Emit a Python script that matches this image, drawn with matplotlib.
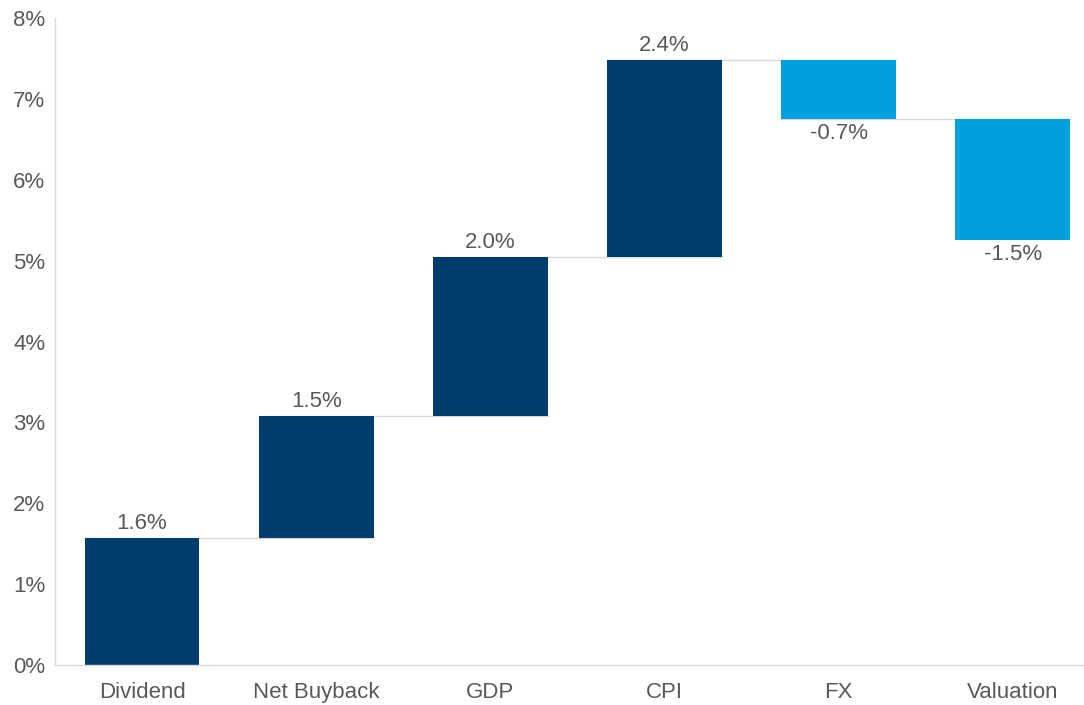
import numpy as np
import matplotlib
matplotlib.use("Agg")
import matplotlib.pyplot as plt

categories = ["Dividend", "Net Buyback", "GDP", "CPI", "FX", "Valuation"]
contributions = [1.57, 1.51, 1.96, 2.44, -0.73, -1.50]
yticks = [0, 1, 2, 3, 4, 5, 6, 7, 8]

DARK = "#003d6b"
LIGHT = "#00a0de"
TEXT = "#595959"
LINE = "#d9d9d9"

plt.rcParams["font.family"] = ["Liberation Sans", "DejaVu Sans"]

vals = np.array(contributions)
ends = np.cumsum(vals)
starts = ends - vals
x = np.arange(len(categories))
colors = [DARK if v >= 0 else LIGHT for v in vals]

fig = plt.figure(figsize=(10.84, 7.05), dpi=100)
ax = fig.add_axes([0.0507, 0.0567, 1.0 - 0.0507 + 0.0145, 0.9745 - 0.0567])

width = 0.66
ax.bar(x, vals, bottom=starts, width=width, color=colors, zorder=2)

# connector lines between bars
for i in range(len(x) - 1):
    ax.plot([x[i] - width / 2, x[i + 1] + width / 2], [ends[i], ends[i]],
            color=LINE, lw=1, zorder=1)

for i, v in enumerate(vals):
    label = "{:.1f}%".format(v)
    if v >= 0:
        ax.text(x[i], ends[i] + 0.05, label, ha="center", va="bottom",
                fontsize=16, color=TEXT)
    else:
        ax.text(x[i], ends[i] - 0.05, label, ha="center", va="top",
                fontsize=16, color=TEXT)

ax.set_xlim(-0.5, 5.5)
ax.set_ylim(0, 8)
ax.set_xticks(x)
ax.set_xticklabels(categories, fontsize=16, color=TEXT)
ax.set_yticks(yticks)
ax.set_yticklabels(["{}%".format(t) for t in yticks], fontsize=16, color=TEXT)
ax.tick_params(length=0)
ax.tick_params(axis="y", pad=7)
ax.tick_params(axis="x", pad=12)

for s in ["top", "right"]:
    ax.spines[s].set_visible(False)
for s in ["left", "bottom"]:
    ax.spines[s].set_color(LINE)
    ax.spines[s].set_linewidth(1)

fig.savefig("out.png", dpi=100)
